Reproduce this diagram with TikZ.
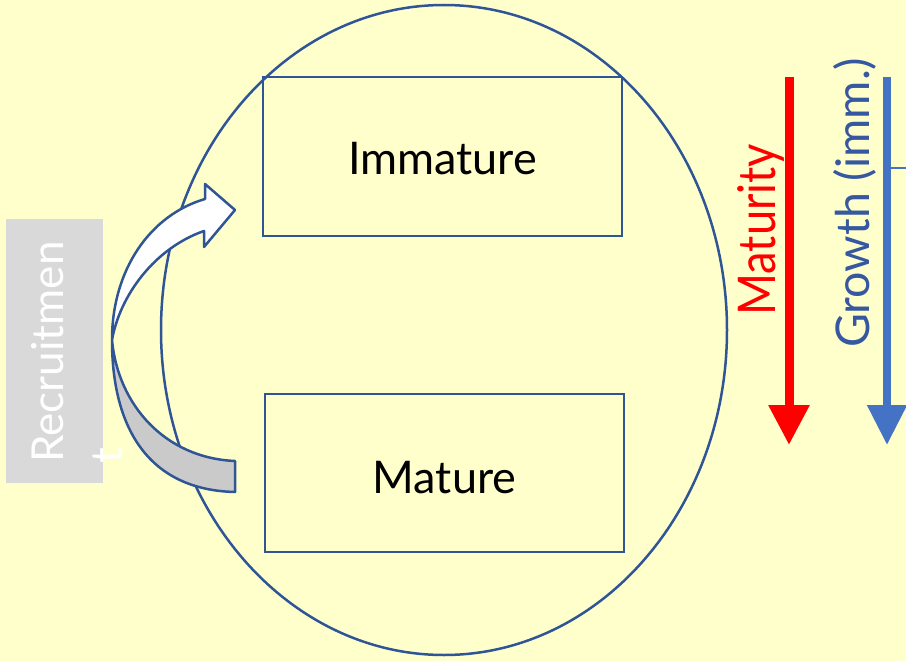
\documentclass[tikz,border=0pt]{standalone}
\usepackage{fontspec}
\setmainfont{Lato}
\usetikzlibrary{shapes.geometric,arrows.meta}
\definecolor{bg}{HTML}{FFFFCC}
\definecolor{edge}{HTML}{2F5597}
\definecolor{arrowblue}{HTML}{4472C4}
\definecolor{textblue}{HTML}{3558A0}
\definecolor{recgray}{HTML}{D9D9D9}
\definecolor{bandgray}{HTML}{CACACA}
\begin{document}
\begin{tikzpicture}[x=1pt,y=-1pt,
  outline/.style={draw=edge, line width=2.5pt},
  lbl/.style={inner sep=0pt, font=\fontsize{45}{50}\selectfont},
  rotlbl/.style={inner sep=0pt, rotate=90, anchor=base west},
  band/.style={draw=edge, line width=2.5pt, line join=round}]
\fill[bg] (0,0) rectangle (906,661);
\useasboundingbox (0,0) rectangle (906,661);

% recruitment box
\node[fill=recgray, minimum width=97pt, minimum height=264pt, inner sep=0pt] (recbox) at (54.5,351) {};
\node[rotlbl, text=white, font=\fontsize{44}{50}\selectfont] (rec1) at (63,463) {Recruitmen};
\node[rotlbl, text=white, font=\fontsize{44}{50}\selectfont] (rec2) at (122,464) {t};

% population ellipse
\node[outline, ellipse, minimum width=566pt, minimum height=650pt, inner sep=0pt] (pop) at (444,330) {};

% boxes
\node[outline, rectangle, minimum width=359pt, minimum height=159pt, inner sep=0pt] (immbox) at (442.5,156.5) {};
\node[lbl, anchor=base] (immtxt) at (442.5,175) {Immature};
\node[outline, rectangle, minimum width=359pt, minimum height=158pt, inner sep=0pt] (matbox) at (444.5,473) {};
\node[lbl, anchor=base] (mattxt) at (444.5,493) {Mature};

% curved arrow
\coordinate (cv) at (112,340);
\filldraw[band, fill=bandgray] (cv) .. controls (112,430) and (150,490) .. (235,492)
   -- (235,461) .. controls (165,458) and (118,405) .. (cv) -- cycle;
\filldraw[band, fill=white] (cv) .. controls (112,270) and (150,215) .. (205,199)
   -- (205,184) -- (235,210) -- (204,247) -- (204,231)
   .. controls (155,248) and (120,295) .. (cv) -- cycle;

% maturity arrow
\node[rotlbl, text=red, font=\fontsize{52}{56}\selectfont] (matlbl) at (775,316) {\scalebox{0.87}[1]{Maturity}};
\coordinate (ma0) at (789,77);
\coordinate (ma1) at (789,445);
\draw[red, line width=9pt, -{Triangle[width=39pt,length=40pt]}] (ma0) -- (ma1);

% growth arrow
\node[rotlbl, text=textblue, font=\fontsize{46.5}{50}\selectfont] (grlbl) at (869,348) {Growth (imm.)};
\coordinate (ga0) at (887,77);
\coordinate (ga1) at (887,445);
\draw[arrowblue, line width=8pt, -{Triangle[width=38pt,length=40pt]}] (ga0) -- (ga1);
\coordinate (gh0) at (891,168);
\coordinate (gh1) at (906,168);
\draw[arrowblue, line width=2.5pt] (gh0) -- (gh1);
\end{tikzpicture}
\end{document}
